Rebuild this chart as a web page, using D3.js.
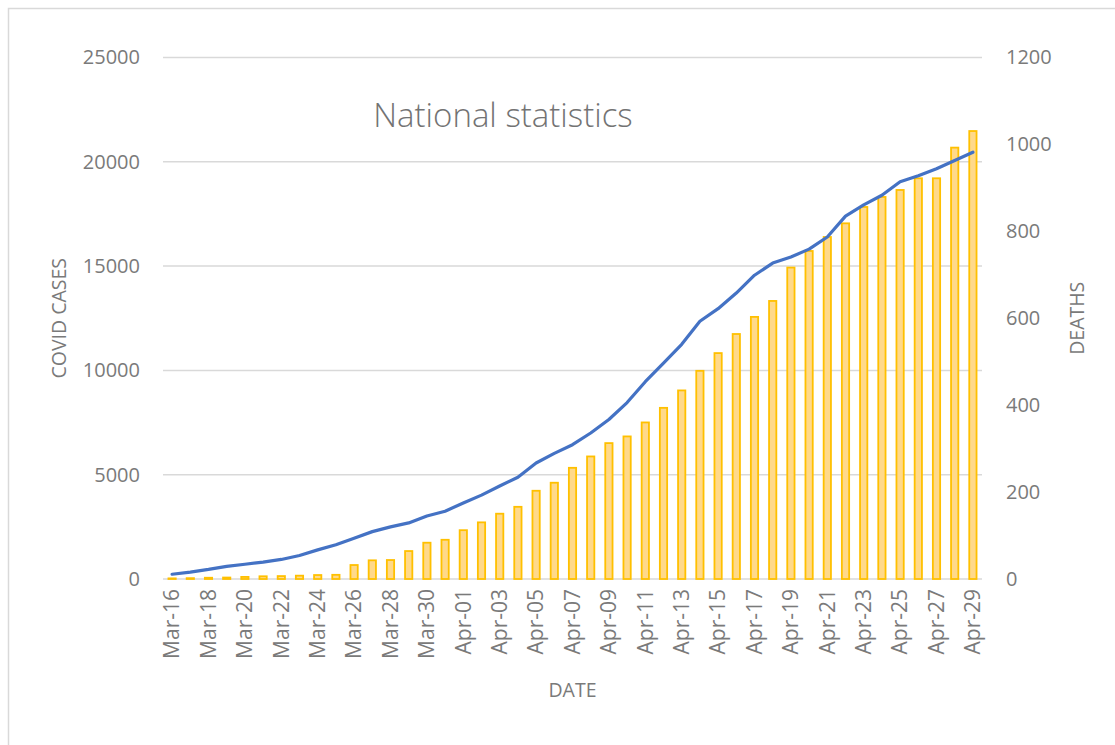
<!DOCTYPE html>
<html lang="en">

<head>
    <meta charset="UTF-8">
    <title>National statistics</title>
    <script src="https://d3js.org/d3.v7.min.js"></script>
    <style>
        body {
            margin: 0;
            background: #ffffff;
        }

        .tick-label {
            font-family: "Open Sans", sans-serif;
            font-size: 20px;
            fill: #7a7a7a;
        }

        .x-label {
            font-size: 21px;
        }

        .axis-title {
            font-family: "Open Sans", sans-serif;
            font-size: 19.5px;
            fill: #7a7a7a;
        }

        .chart-title {
            font-family: "Open Sans", sans-serif;
            font-size: 33px;
            font-weight: 300;
            fill: #737373;
        }
    </style>
</head>

<body>
    <div id="chart"></div>

    <script>
        // Dates (category axis)
        var dates = ["Mar-16", "Mar-17", "Mar-18", "Mar-19", "Mar-20", "Mar-21", "Mar-22", "Mar-23",
            "Mar-24", "Mar-25", "Mar-26", "Mar-27", "Mar-28", "Mar-29", "Mar-30", "Mar-31",
            "Apr-01", "Apr-02", "Apr-03", "Apr-04", "Apr-05", "Apr-06", "Apr-07", "Apr-08",
            "Apr-09", "Apr-10", "Apr-11", "Apr-12", "Apr-13", "Apr-14", "Apr-15", "Apr-16",
            "Apr-17", "Apr-18", "Apr-19", "Apr-20", "Apr-21", "Apr-22", "Apr-23", "Apr-24",
            "Apr-25", "Apr-26", "Apr-27", "Apr-28", "Apr-29"];

        // Cumulative covid cases (bars, left axis)
        var cases = [30, 40, 60, 70, 100, 130, 140, 160, 190, 200,
            670, 895, 910, 1340, 1740, 1880, 2340, 2715, 3130, 3460,
            4230, 4615, 5330, 5875, 6515, 6835, 7505, 8205, 9040, 9980,
            10830, 11745, 12565, 13330, 14930, 15725, 16395, 17050, 17835, 18315,
            18650, 19210, 19210, 20680, 21475];

        // Cumulative deaths (line, right axis)
        var deaths = [11, 16, 22, 29, 34, 39, 45, 54, 67, 79,
            94, 109, 120, 129, 145, 156, 175, 193, 214, 234,
            267, 289, 309, 336, 367, 406, 454, 497, 540, 593,
            622, 658, 699, 727, 741, 759, 787, 835, 861, 883,
            914, 928, 944, 963, 982];

        var casesTicks = [0, 5000, 10000, 15000, 20000, 25000];
        var deathsTicks = [0, 200, 400, 600, 800, 1000, 1200];

        var width = 1115, height = 745;
        var margin = { top: 57.5, right: 133, bottom: 166, left: 163 };
        var plotW = width - margin.left - margin.right,
            plotH = height - margin.top - margin.bottom;

        var svg = d3.select("#chart")
            .append("svg")
            .attr("width", width)
            .attr("height", height);

        // chart area border
        svg.append("rect")
            .attr("x", 8.5)
            .attr("y", 8.5)
            .attr("width", width + 20)
            .attr("height", height + 20)
            .style("fill", "none")
            .style("stroke", "#d9d9d9")
            .style("stroke-width", 1.5);

        var g = svg.append("g")
            .attr("transform", "translate(" + margin.left + "," + margin.top + ")");

        // scales
        var x = d3.scaleBand()
            .domain(dates)
            .range([0, plotW])
            .paddingInner(0.6)
            .paddingOuter(0.3);

        var yLeft = d3.scaleLinear()
            .domain([0, 25000])
            .range([plotH, 0]);

        var yRight = d3.scaleLinear()
            .domain([0, 1200])
            .range([plotH, 0]);

        // gridlines
        g.append("g")
            .selectAll("line")
            .data(casesTicks)
            .enter()
            .append("line")
            .attr("x1", 0)
            .attr("x2", plotW)
            .attr("y1", function (d) { return yLeft(d); })
            .attr("y2", function (d) { return yLeft(d); })
            .style("stroke", "#d9d9d9")
            .style("stroke-width", 1.5);

        // left axis
        var leftAxis = g.append("g")
            .call(d3.axisLeft(yLeft).tickValues(casesTicks).tickSize(0).tickPadding(23).tickFormat(d3.format("d")));
        leftAxis.select(".domain").remove();
        leftAxis.selectAll("text").attr("class", "tick-label");

        // right axis
        var rightAxis = g.append("g")
            .attr("transform", "translate(" + plotW + ",0)")
            .call(d3.axisRight(yRight).tickValues(deathsTicks).tickSize(0).tickPadding(24).tickFormat(d3.format("d")));
        rightAxis.select(".domain").remove();
        rightAxis.selectAll("text").attr("class", "tick-label");

        // bottom axis, every other date shown
        var bottomAxis = g.append("g")
            .attr("transform", "translate(0," + plotH + ")")
            .call(d3.axisBottom(x)
                .tickValues(dates.filter(function (d, i) { return i % 2 === 0; }))
                .tickSize(0)
                .tickPadding(0));
        bottomAxis.select(".domain").remove();
        bottomAxis.selectAll("text")
            .attr("class", "tick-label x-label")
            .attr("transform", "rotate(-90)")
            .attr("x", -10)
            .attr("y", 0)
            .attr("dy", "0.35em")
            .style("text-anchor", "end");

        // bars
        g.selectAll(".bar")
            .data(cases)
            .enter()
            .append("rect")
            .attr("class", "bar")
            .attr("x", function (d, i) { return x(dates[i]); })
            .attr("y", function (d) { return yLeft(d); })
            .attr("width", x.bandwidth())
            .attr("height", function (d) { return plotH - yLeft(d); })
            .style("fill", "#ffd98a")
            .style("stroke", "#ffc000")
            .style("stroke-width", 1.8);

        // deaths line
        var line = d3.line()
            .x(function (d, i) { return x(dates[i]) + x.bandwidth() / 2; })
            .y(function (d) { return yRight(d); });

        g.append("path")
            .datum(deaths)
            .attr("d", line)
            .style("fill", "none")
            .style("stroke", "#4472c4")
            .style("stroke-width", 3.2)
            .style("stroke-linejoin", "round")
            .style("stroke-linecap", "round");

        // titles
        svg.append("text")
            .attr("class", "chart-title")
            .attr("x", 503)
            .attr("y", 127)
            .style("text-anchor", "middle")
            .text("National statistics");

        svg.append("text")
            .attr("class", "axis-title")
            .attr("transform", "translate(66," + (margin.top + plotH / 2) + ") rotate(-90)")
            .style("text-anchor", "middle")
            .text("COVID CASES");

        svg.append("text")
            .attr("class", "axis-title")
            .attr("transform", "translate(1084," + (margin.top + plotH / 2) + ") rotate(-90)")
            .style("text-anchor", "middle")
            .text("DEATHS");

        svg.append("text")
            .attr("class", "axis-title")
            .attr("x", margin.left + plotW / 2)
            .attr("y", 697)
            .style("text-anchor", "middle")
            .text("DATE");
    </script>
</body>

</html>
